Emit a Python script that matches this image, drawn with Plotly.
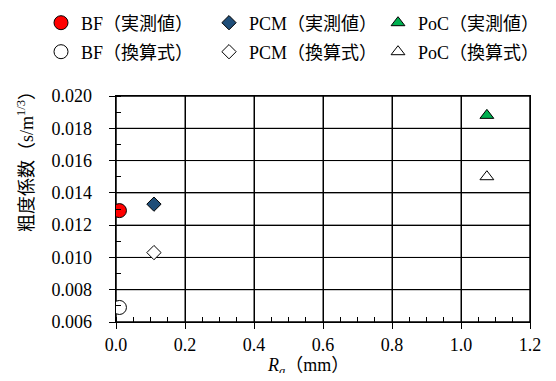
import plotly.graph_objects as go

series_names = ["BF（実測値）", "PCM（実測値）", "PoC（実測値）",
                "BF（換算式）", "PCM（換算式）", "PoC（換算式）"]
ra_values = [0.01, 0.11, 1.075, 0.01, 0.11, 1.075]
n_values = [0.0129, 0.0133, 0.0188, 0.0069, 0.0103, 0.0150]
symbols = ["circle", "diamond", "triangle-up", "circle", "diamond", "triangle-up"]
fills = ["#FF0000", "#1F4E79", "#00B050", "#FFFFFF", "#FFFFFF", "#FFFFFF"]
sizes = [14, 11, 12, 14, 11, 12]

x_ticks = [0.0, 0.2, 0.4, 0.6, 0.8, 1.0, 1.2]
y_ticks = [0.006, 0.008, 0.010, 0.012, 0.014, 0.016, 0.018, 0.020]
x_range = [x_ticks[0], x_ticks[-1]]
y_range = [y_ticks[0], y_ticks[-1]]
x_step = 0.2
y_step = 0.002

FONT = "Liberation Serif, Times New Roman, Noto Sans CJK JP"
OFF = 8  # page body margin
W, H = 540, 365  # fits inside the 556x381 window with the body margin

# legend slots (marker centre in page px)
leg_ids = ["legend", "legend2", "legend3", "legend4", "legend5", "legend6"]
leg_cx = [61, 229, 398, 61, 229, 398]
leg_cy = [23, 23, 23, 52, 52, 52]

fig = go.Figure()
for i, (name, x, y, s, c, sz) in enumerate(zip(series_names, ra_values, n_values, symbols, fills, sizes)):
    fig.add_trace(go.Scatter(
        x=[x], y=[y], mode="markers", name=name, legend=leg_ids[i],
        marker=dict(symbol=s, color=c, size=sz, line=dict(color="black", width=1)),
    ))

legends = {}
for i, lid in enumerate(leg_ids):
    legends[lid] = dict(
        x=(leg_cx[i] - OFF - 20) / W, xref="container", xanchor="left",
        y=1 - (leg_cy[i] - OFF) / H, yref="container", yanchor="middle",
        bgcolor="rgba(0,0,0,0)", borderwidth=0,
        font=dict(family=FONT, size=18, color="black"),
    )

# gridlines and frame (reinforce the axis grid)
shapes = []
for xv in x_ticks:
    shapes.append(dict(type="line", xref="x", yref="paper", x0=xv, x1=xv, y0=0, y1=1,
                       line=dict(color="black", width=1), layer="below"))
for yv in y_ticks:
    shapes.append(dict(type="line", xref="paper", yref="y", x0=0, x1=1, y0=yv, y1=yv,
                       line=dict(color="black", width=1), layer="below"))
shapes.append(dict(type="rect", xref="paper", yref="paper", x0=0, x1=1, y0=0, y1=1,
                   line=dict(color="black", width=1), fillcolor="rgba(0,0,0,0)", layer="below"))

axis_common = dict(
    showline=True, linecolor="black", linewidth=1, mirror=True,
    showgrid=True, gridcolor="black", gridwidth=1,
    ticks="outside", ticklen=6, tickcolor="black",
    zeroline=False, automargin=False,
    tickfont=dict(family=FONT, size=18, color="black"),
)

left = 116 - OFF
top = 96 - OFF
plot_w, plot_h = 414, 226

fig.update_layout(
    width=W, height=H,
    margin=dict(l=left, r=W - left - plot_w, t=top, b=H - top - plot_h, autoexpand=False),
    paper_bgcolor="white", plot_bgcolor="white",
    font=dict(family=FONT, size=18, color="black"),
    showlegend=True,
    shapes=shapes,
    xaxis=dict(
        range=x_range, tickmode="linear", tick0=x_range[0], dtick=x_step,
        tickformat=".1f",
        minor=dict(dtick=x_step / 4, ticks="inside", ticklen=5, tickcolor="black", showgrid=False),
        **axis_common,
    ),
    yaxis=dict(
        range=y_range, tickmode="linear", tick0=y_range[0], dtick=y_step,
        tickformat=".3f", ticksuffix="\u00a0\u00a0\u00a0",
        minor=dict(dtick=y_step / 2, ticks="inside", ticklen=5, tickcolor="black", showgrid=False),
        **axis_common,
    ),
    annotations=[
        dict(text="<i>R<sub>a</sub></i>（mm）", xref="paper", yref="paper",
             x=(308 - 116) / plot_w, y=-(366 - 322) / plot_h, xanchor="center", yanchor="middle",
             showarrow=False, font=dict(family=FONT, size=18, color="black")),
        dict(text="粗度係数（s/m<sup>1/3</sup>）", xref="paper", yref="paper",
             x=-(116 - 25) / plot_w, y=(322 - 157) / plot_h, xanchor="center", yanchor="middle",
             textangle=-90, showarrow=False, font=dict(family=FONT, size=18, color="black")),
    ],
)
fig.update_layout(**legends)

fig.write_html("out.html")
